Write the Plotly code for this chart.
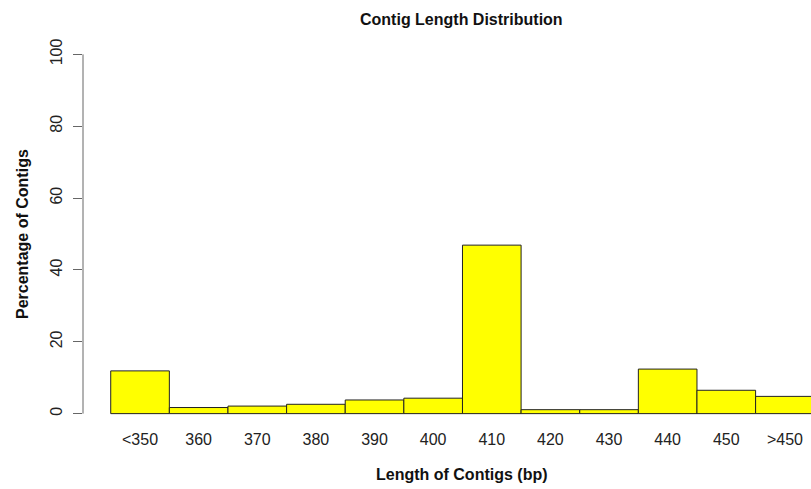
import plotly.graph_objects as go

# Contig length bins and the share of contigs falling in each
bins = ["<350", "360", "370", "380", "390", "400", "410", "420", "430", "440", "450", ">450"]
percentages = [11.9, 1.7, 2.1, 2.6, 3.8, 4.3, 46.9, 1.1, 1.1, 12.4, 6.5, 4.8]
y_ticks = [0, 20, 40, 60, 80, 100]

FONT = "Liberation Sans, Arial, Helvetica, sans-serif"
positions = list(range(len(bins)))

fig = go.Figure(
    go.Bar(
        x=positions,
        y=percentages,
        width=1,
        marker=dict(color="#FFFF00", line=dict(color="#222222", width=1)),
        hoverinfo="x+y",
    )
)

fig.update_layout(
    width=811,
    height=489,
    margin=dict(l=83, r=0, t=40, b=61),
    paper_bgcolor="white",
    plot_bgcolor="white",
    showlegend=False,
    font=dict(family=FONT, size=16, color="#222222"),
    xaxis=dict(
        range=[-0.973, 11.445],
        tickvals=positions,
        ticktext=bins,
        ticks="",
        showline=False,
        showgrid=False,
        zeroline=False,
        tickfont=dict(size=16, color="#222222"),
    ),
    yaxis=dict(
        range=[-4, 104],
        tickvals=y_ticks,
        ticks="outside",
        ticklen=9,
        tickwidth=1,
        tickcolor="#666666",
        tickangle=-90,
        ticklabelstandoff=5,
        showline=False,
        showgrid=False,
        zeroline=False,
        tickfont=dict(size=16, color="#222222"),
    ),
    annotations=[
        dict(
            text="<b>Contig Length Distribution</b>",
            x=461, y=489 - 20, xref="paper", yref="paper",
            showarrow=False, font=dict(size=16, family=FONT, color="#111111"),
            xanchor="center", yanchor="middle",
        ),
        dict(
            text="<b>Length of Contigs (bp)</b>",
            x=461.5, y=489 - 474, xref="paper", yref="paper",
            showarrow=False, font=dict(size=16, family=FONT, color="#111111"),
            xanchor="center", yanchor="middle",
        ),
        dict(
            text="<b>Percentage of Contigs</b>",
            x=22, y=489 - 234, xref="paper", yref="paper",
            showarrow=False, textangle=-90, font=dict(size=16, family=FONT, color="#111111"),
            xanchor="center", yanchor="middle",
        ),
    ],
)

# Convert pixel-based annotation positions into paper coordinates
plot_w = 811 - 83 - 0
plot_h = 489 - 40 - 61
for ann in fig.layout.annotations:
    ann.x = (ann.x - 83) / plot_w
    ann.y = (ann.y - 61) / plot_h

# Y axis line spans only the labelled 0-100 range
fig.add_shape(
    type="line", xref="paper", yref="y",
    x0=0, x1=0, y0=0, y1=100,
    line=dict(color="#666666", width=1),
)

fig.write_html("out.html")
